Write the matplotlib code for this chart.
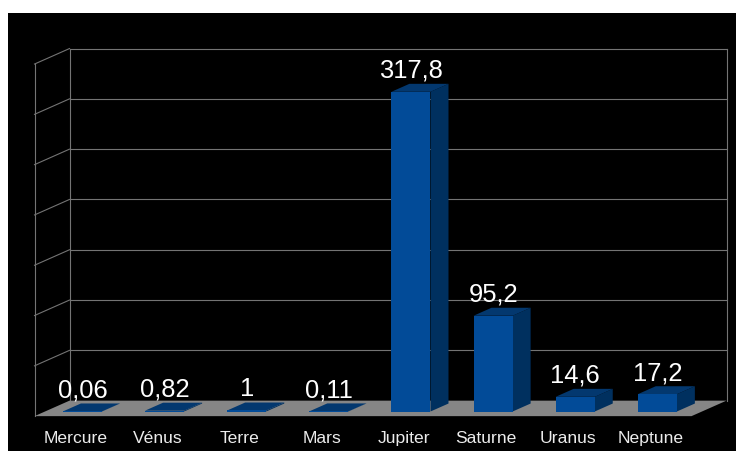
import matplotlib
matplotlib.use("Agg")
import matplotlib.pyplot as plt
from matplotlib.patches import Polygon, Rectangle
from matplotlib.transforms import IdentityTransform

# Masse des planètes (Terre = 1)
planets = ["Mercure", "Vénus", "Terre", "Mars", "Jupiter", "Saturne", "Uranus", "Neptune"]
masses = [0.06, 0.82, 1, 0.11, 317.8, 95.2, 14.6, 17.2]
value_labels = ["0,06", "0,82", "1", "0,11", "317,8", "95,2", "14,6", "17,2"]
grid_values = [0, 50, 100, 150, 200, 250, 300, 350]

W, H = 736, 452
fig = plt.figure(figsize=(W / 100, H / 100), dpi=100, facecolor="white")
fig.add_artist(Rectangle((8 / W, 0), 1, (H - 14) / H, transform=fig.transFigure,
                         facecolor="black", edgecolor="none", zorder=-10))

# Axes spanning the front plane of the bars
ax = fig.add_axes([45 / W, 39.5 / H, 657 / W, 352.1 / H])
ax.set_xlim(-0.5, len(planets) - 0.5)
ax.set_ylim(0, 350)
ax.axis("off")
ax.patch.set_alpha(0)

# Oblique depth: z=0 floor front edge, z=1 back wall
DX, DY = 35.0, 15.5
Z_FRONT = 0.3
Z_BACK = Z_FRONT + 18 / 35
BAR_SHIFT = -0.044
HALF_W = 0.238

FLOOR = "#868686"
GRID = "#747474"
FRONT = "#024b98"
SIDE = "#00305f"
TOP = "#03386f"
ID = IdentityTransform()


def proj(x, v, z):
    px, py = ax.transData.transform((x, v))
    return (px + (z - Z_FRONT) * DX, py + (z - Z_FRONT) * DY)


def poly(points, color, z):
    ax.add_patch(Polygon([proj(*p) for p in points], closed=True, facecolor=color,
                         edgecolor="none", transform=ID, clip_on=False, zorder=z))


def line(p0, p1, z=1, color=GRID, lw=0.8):
    a, b = proj(*p0), proj(*p1)
    ax.add_line(plt.Line2D([a[0], b[0]], [a[1], b[1]], color=color, lw=lw,
                           transform=ID, clip_on=False, zorder=z))


x0, x1 = -0.5, len(planets) - 0.5
top = grid_values[-1]

# Floor
poly([(x0, 0, 0), (x1, 0, 0), (x1, 0, 1), (x0, 0, 1)], FLOOR, 2)

# Back wall and left wall grid
for g in grid_values[1:]:
    line((x0, g, 1), (x1, g, 1))
    line((x0, g, 0), (x0, g, 1))
line((x0, 0, 1), (x0, top, 1))
line((x1, 0, 1), (x1, top, 1))
line((x0, 0, 0), (x0, top, 0))

# Bars
for i, (m, lab) in enumerate(zip(masses, value_labels)):
    c = i + BAR_SHIFT
    l, r = c - HALF_W, c + HALF_W
    poly([(r, 0, Z_FRONT), (r, m, Z_FRONT), (r, m, Z_BACK), (r, 0, Z_BACK)], SIDE, 3)
    poly([(l, m, Z_FRONT), (r, m, Z_FRONT), (r, m, Z_BACK), (l, m, Z_BACK)], TOP, 3)
    ax.bar(c, m, width=2 * HALF_W, color=FRONT, zorder=4, clip_on=False)
    ax.annotate(lab, xy=(c, m), xytext=(0, 15), textcoords="offset pixels",
                ha="center", va="baseline", color="white", fontsize=18.4,
                family="Liberation Sans", zorder=6, annotation_clip=False)

# Category labels along the floor front edge
for i, name in enumerate(planets):
    ax.annotate(name, xy=(i, 0), xytext=(-10.5, -30.5), textcoords="offset pixels",
                ha="center", va="baseline", color="#ececec", fontsize=12.6,
                family="Liberation Sans", zorder=6, annotation_clip=False)

fig.savefig("out.png", dpi=100, facecolor="white")
